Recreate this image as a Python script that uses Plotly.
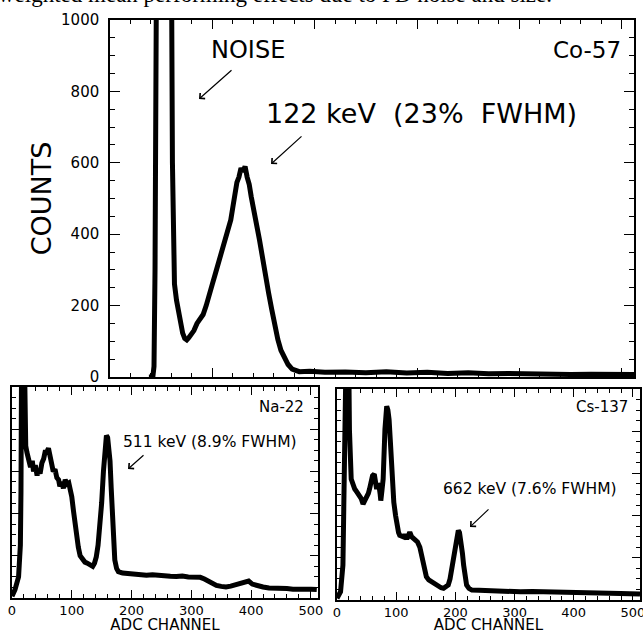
import plotly.graph_objects as go

W, H = 643, 634

# ---------------- data ----------------
co57_channel = [38, 40, 42, 43, 44, 45, 46, 58, 60, 61, 62, 63, 65, 68, 71, 73, 75, 77, 79, 82, 85,
                88, 91, 94, 97, 100, 103, 106, 109, 112, 115, 118, 120, 122, 124, 126, 128, 130,
                132, 134, 136, 138, 140, 143, 146, 149, 152, 155, 158, 161, 164, 167, 170, 174,
                178, 185, 195, 210, 230, 250, 270, 290, 310, 330, 350, 370, 390, 410, 430, 450,
                470, 490, 512]
co57_counts = [0, 0, 4, 30, 300, 1200, 1500, 1500, 1200, 600, 350, 260, 215, 160, 123, 108, 104,
               110, 118, 130, 150, 165, 175, 200, 225, 260, 290, 320, 355, 390, 410, 440, 475,
               520, 545, 560, 585, 575, 590, 560, 540, 505, 480, 430, 385, 330, 280, 235, 190,
               140, 105, 75, 55, 35, 22, 15, 16, 13, 14, 12, 15, 11, 13, 10, 12, 9, 10, 8, 9,
               7, 8, 6, 7]

na22_channel = [0, 5, 11, 14, 15, 16, 21, 22, 23, 25, 28, 31, 34, 36, 39, 42, 44, 47, 50, 53, 56,
                58, 61, 64, 67, 69, 72, 75, 78, 80, 83, 86, 89, 92, 95, 97, 100, 103, 106, 108,
                111, 114, 118, 122, 126, 129, 132, 135, 138, 141, 144, 147, 150, 153, 156, 158,
                160, 162, 164, 166, 168, 170, 172, 175, 178, 185, 195, 205, 215, 225, 235, 245,
                255, 265, 275, 285, 295, 305, 315, 322, 328, 335, 342, 350, 358, 366, 374, 382,
                390, 396, 402, 410, 420, 430, 440, 450, 460, 470, 480, 490, 500, 510]
na22_counts = [8, 40, 100, 250, 500, 1100, 1100, 800, 720, 690, 660, 620, 650, 600, 630, 580,
               610, 590, 640, 660, 700, 690, 710, 660, 630, 600, 610, 570, 560, 530, 550, 520,
               560, 540, 545, 520, 480, 410, 340, 290, 240, 200, 180, 170, 165, 160, 150, 150,
               165, 195, 250, 330, 450, 600, 740, 770, 760, 700, 650, 520, 400, 280, 180, 140,
               125, 118, 115, 112, 114, 108, 110, 106, 104, 103, 102, 104, 100, 101, 98, 90,
               80, 68, 60, 55, 52, 56, 63, 70, 78, 80, 66, 58, 52, 47, 48, 44, 45, 42, 43, 40,
               42, 40]

cs137_channel = [0, 6, 10, 13, 15, 20, 21, 24, 27, 30, 34, 38, 41, 44, 47, 50, 53, 55, 58, 60, 63,
                 65, 67, 69, 71, 73, 74, 76, 78, 81, 84, 86, 88, 90, 92, 94, 96, 99, 101, 104,
                 106, 110, 113, 115, 118, 120, 123, 126, 129, 132, 136, 140, 143, 146, 149, 151,
                 155, 160, 165, 171, 176, 180, 184, 188, 191, 194, 197, 199, 202, 205, 207, 209,
                 212, 214, 217, 219, 223, 228, 240, 253, 270, 290, 310, 330, 350, 366, 385, 405,
                 423, 440, 460, 479, 495, 512]
cs137_counts = [8, 39, 165, 573, 1100, 1100, 808, 573, 545, 526, 510, 495, 480, 455, 470, 487,
                505, 526, 560, 589, 597, 560, 526, 550, 542, 500, 471, 520, 573, 808, 918, 900,
                856, 760, 651, 560, 463, 400, 353, 320, 306, 300, 298, 310, 290, 300, 322, 300,
                290, 285, 275, 250, 212, 170, 133, 110, 95, 86, 72, 63, 58, 55, 62, 71, 100,
                149, 210, 259, 300, 330, 320, 290, 220, 165, 110, 71, 55, 47, 46, 44, 42, 40,
                39, 40, 38, 39, 37, 36, 35, 33, 32, 31, 30, 28]

ticks_bottom = [0, 100, 200, 300, 400, 500]

# ---------------- figure ----------------
fig = go.Figure()
line = dict(color="black", width=5)
fig.add_trace(go.Scatter(x=co57_channel, y=co57_counts, mode="lines", line=line,
                         xaxis="x", yaxis="y", showlegend=False))
fig.add_trace(go.Scatter(x=na22_channel, y=na22_counts, mode="lines", line=line,
                         xaxis="x2", yaxis="y2", showlegend=False))
fig.add_trace(go.Scatter(x=cs137_channel, y=cs137_counts, mode="lines", line=line,
                         xaxis="x3", yaxis="y3", showlegend=False))

def px_x(p):
    return p / W

def px_y(p):
    return 1 - p / H

FONT = "DejaVu Sans, Liberation Sans, Arial, sans-serif"

def minor(n, ln):
    return dict(dtick=n, ticklen=ln, ticks="inside", tickcolor="black", tickwidth=1)

common = dict(showline=True, linecolor="black", linewidth=1.5, mirror="ticks",
              ticks="inside", tickcolor="black", tickwidth=1, showgrid=False,
              zeroline=False, automargin=False)

bottom_tickfont = dict(family=FONT, size=13, color="black")
bottom_title = dict(text="ADC CHANNEL", font=dict(family=FONT, size=15), standoff=2)

fig.update_layout(
    width=W, height=H, margin=dict(l=0, r=0, t=0, b=0),
    paper_bgcolor="white", plot_bgcolor="white",
    font=dict(family=FONT, color="black"),
    xaxis=dict(domain=[px_x(110), px_x(634)], range=[0, 512], anchor="y",
               tick0=0, dtick=100, ticklen=9, showticklabels=False,
               minor=minor(20, 4), **common),
    yaxis=dict(domain=[px_y(377), px_y(20)], range=[0, 1000], anchor="x",
               tick0=0, dtick=200, ticklen=10, ticklabelstandoff=6,
               tickfont=dict(family=FONT, size=15, color="black"),
               minor=minor(50, 5),
               title=dict(text="COUNTS", font=dict(family=FONT, size=27), standoff=2),
               **common),
    xaxis2=dict(domain=[px_x(12), px_x(318)], range=[0, 512], anchor="y2",
                tickvals=ticks_bottom, ticklen=8, ticklabelstandoff=0,
                ticklabeloverflow="allow",
                tickfont=bottom_tickfont, minor=minor(20, 4),
                title=bottom_title, **common),
    yaxis2=dict(domain=[px_y(598), px_y(387)], range=[0, 1000], anchor="x2",
                tick0=0, dtick=200, ticklen=8, showticklabels=False,
                minor=minor(50, 4), **common),
    xaxis3=dict(domain=[px_x(337), px_x(640)], range=[0, 512], anchor="y3",
                tickvals=ticks_bottom, ticklen=8, ticklabelstandoff=0,
                ticklabeloverflow="allow",
                tickfont=bottom_tickfont, minor=minor(20, 4),
                title=bottom_title, **common),
    yaxis3=dict(domain=[px_y(600), px_y(389)], range=[0, 1000], anchor="x3",
                tick0=0, dtick=200, ticklen=8, showticklabels=False,
                minor=minor(50, 4), **common),
)

def label(text, x, y, size, xanchor="left", family=FONT):
    fig.add_annotation(text=text, x=px_x(x), y=px_y(y), xref="paper", yref="paper",
                       xanchor=xanchor, yanchor="middle", showarrow=False,
                       font=dict(family=family, size=size, color="black"))

def arrow(x0, y0, x1, y1):
    # tail (x0, y0) -> tip (x1, y1), in pixels
    fig.add_annotation(text="", x=px_x(x1), y=px_y(y1), xref="paper", yref="paper",
                       ax=x0 - x1, ay=y0 - y1, showarrow=True, arrowhead=4,
                       arrowsize=1.2, arrowwidth=1.2, arrowcolor="black")

# caption remnant at top edge
fig.add_annotation(text="weighted mean performing effects due to PD noise and size.",
                   x=px_x(-4), y=px_y(9), xref="paper", yref="paper", xanchor="left",
                   yanchor="bottom", showarrow=False,
                   font=dict(family="Liberation Serif, Times New Roman, serif", size=23,
                             color="black"))

NB = "\u00a0"
label("NOISE", 209, 50, 24)
arrow(233, 69, 199, 99)
label("Co-57", 623, 50, 23, xanchor="right")
label("122 keV" + NB + " (23%" + NB + " FWHM)", 264, 113, 27)
arrow(303, 135, 271, 164)

label("Na-22", 306, 407, 15, xanchor="right")
label("511 keV (8.9% FWHM)", 121, 442, 15.5)
arrow(145, 454, 128, 469)

label("Cs-137", 630, 407, 15, xanchor="right")
label("662 keV (7.6% FWHM)", 441, 489, 15.5)
arrow(490, 508, 470, 527)

fig.write_html("out.html", config={"displayModeBar": False},
               post_script="document.body.style.margin='0';document.body.style.overflow='hidden';")
